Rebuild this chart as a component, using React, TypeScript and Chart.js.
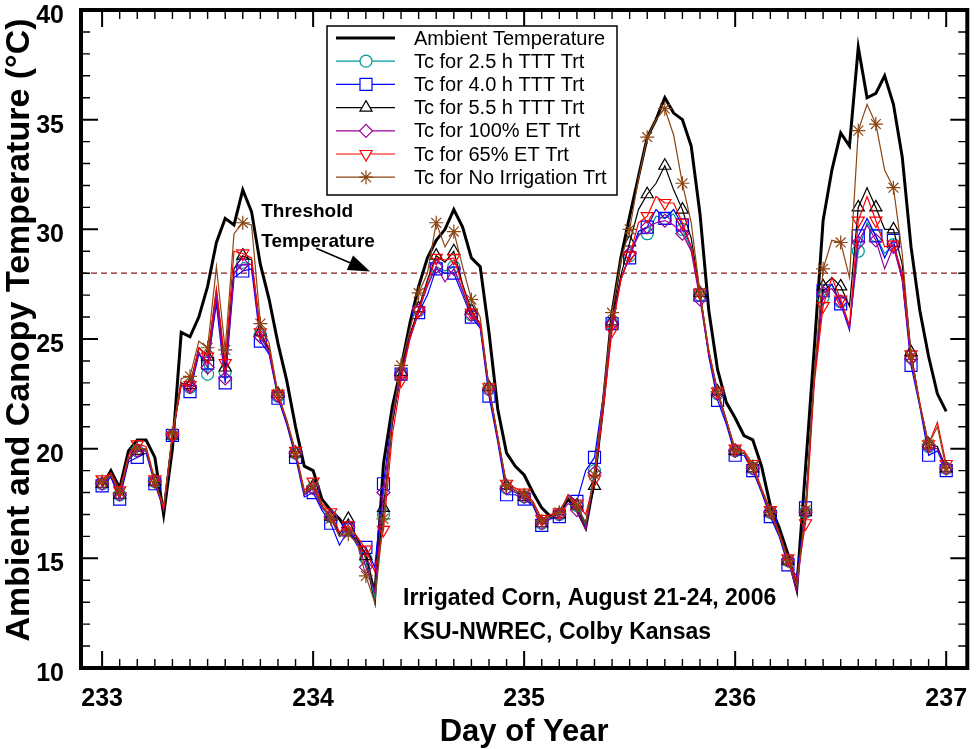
import React, { useEffect, useRef } from 'react';
import { Chart, registerables } from 'chart.js';
import { drawPoint } from 'chart.js/helpers';

Chart.register(...registerables);

const FONT = '"Liberation Sans", Arial, Helvetica, sans-serif';

// hourly readings from Day 233.0 to Day 237.0
const startDay = 233;
const xTicks = [233, 234, 235, 236, 237];
const yTicks = [10, 15, 20, 25, 30, 35, 40];
const thresholdTemp = 28;

const ambient = [
  18.3, 19.0, 18.2, 19.9, 20.4, 20.4, 19.6, 17.0, 20.0, 25.3, 25.1, 26.0, 27.4, 29.4, 30.5, 30.2, 31.8, 30.8, 28.4, 26.8, 24.8, 23.1, 21.0, 19.2,
  19.0, 17.7, 17.2, 16.8, 16.2, 15.8, 15.1, 13.2, 19.3, 21.9, 23.7, 25.7, 27.4, 28.7, 29.5, 30.0, 30.9, 30.1, 28.7, 28.3, 25.3, 21.8, 19.8, 19.2,
  18.8, 18.0, 17.3, 16.9, 17.1, 17.7, 17.2, 16.4, 18.6, 22.1, 26.2, 28.7, 30.6, 32.4, 34.2, 35.0, 36.0, 35.3, 35.0, 33.8, 30.7, 26.3, 23.6, 22.1,
  21.4, 20.6, 20.4, 19.2, 17.4, 16.4, 15.2, 13.6, 19.1, 24.6, 30.4, 32.7, 34.4, 33.8, 38.3, 36.0, 36.2, 37.0, 35.7, 33.3, 29.2, 26.3, 24.2, 22.5, 21.7,
];

const tc25h = [
  18.4, 18.8, 17.9, 19.5, 19.9, 19.9, 18.5, 17.3, 20.6, 23.0, 22.8, 24.4, 23.4, 27.0, 23.5, 28.0, 28.5, 28.4, 25.2, 24.4, 22.4, 21.2, 19.8, 17.9,
  18.2, 17.3, 16.9, 16.0, 16.4, 15.8, 15.0, 13.2, 17.0, 21.2, 23.4, 25.1, 26.3, 27.5, 28.3, 28.1, 28.3, 27.2, 26.1, 25.6, 22.7, 20.4, 18.2, 18.0,
  17.8, 17.5, 16.6, 16.9, 17.0, 17.8, 17.4, 16.5, 19.0, 22.2, 25.7, 27.7, 28.8, 29.8, 29.8, 30.6, 30.5, 30.7, 30.0, 29.1, 27.0, 24.3, 22.5, 21.2,
  19.9, 19.8, 19.1, 18.1, 17.1, 16.1, 14.9, 13.8, 17.1, 23.3, 26.9, 27.5, 26.7, 25.6, 29.0, 30.3, 29.7, 28.9, 29.3, 27.8, 24.2, 22.0, 20.1, 20.0, 19.1,
];

const tc40h = [
  18.3, 18.7, 17.7, 19.4, 19.6, 19.8, 18.4, 17.2, 20.6, 22.9, 22.6, 24.3, 23.9, 26.6, 23.0, 27.8, 28.1, 28.2, 24.9, 24.3, 22.3, 21.1, 19.6, 17.8,
  18.0, 17.2, 16.6, 15.6, 16.3, 15.6, 15.5, 14.6, 18.4, 21.5, 23.4, 25.0, 26.2, 27.0, 28.2, 28.0, 28.0, 27.0, 26.0, 25.5, 22.4, 20.3, 17.9, 17.9,
  17.7, 17.4, 16.5, 16.8, 16.9, 17.9, 17.6, 19.0, 19.6, 22.4, 25.7, 27.8, 28.7, 29.9, 30.1, 30.9, 30.5, 30.9, 30.2, 29.2, 27.0, 24.2, 22.2, 21.1,
  19.7, 19.7, 19.0, 18.0, 16.9, 16.0, 14.7, 14.2, 17.3, 23.2, 27.2, 27.5, 26.6, 25.4, 29.7, 30.5, 29.7, 28.7, 29.5, 27.7, 23.8, 21.9, 19.7, 19.9, 19.0,
];

const tc55h = [
  18.4, 18.8, 17.9, 19.5, 19.9, 20.0, 18.5, 17.3, 20.6, 23.0, 22.9, 24.6, 24.2, 27.2, 23.7, 28.2, 28.8, 28.6, 25.3, 24.5, 22.5, 21.2, 19.8, 18.0,
  18.3, 17.4, 16.9, 16.1, 16.8, 15.9, 15.1, 13.6, 17.3, 21.1, 23.5, 25.2, 26.4, 27.7, 28.8, 28.5, 29.0, 27.5, 26.3, 25.7, 22.8, 20.5, 18.3, 18.1,
  17.8, 17.5, 16.6, 16.9, 17.0, 17.7, 17.4, 16.6, 18.3, 22.1, 25.8, 27.9, 29.4, 30.9, 31.6, 32.1, 32.9, 31.8, 30.9, 29.6, 27.1, 24.4, 22.6, 21.3,
  19.9, 19.8, 19.1, 18.1, 17.1, 16.1, 14.9, 13.9, 17.1, 23.4, 27.4, 27.8, 27.4, 26.5, 31.0, 31.9, 31.0, 30.0, 30.0, 28.4, 24.4, 22.0, 20.2, 20.1, 19.1,
];

const tc100et = [
  18.4, 18.8, 17.9, 19.5, 19.9, 19.9, 18.5, 17.3, 20.6, 23.0, 22.8, 24.4, 23.7, 27.0, 23.2, 28.0, 28.4, 28.4, 25.1, 24.4, 22.4, 21.2, 19.8, 17.9,
  18.2, 17.3, 16.9, 16.0, 16.4, 15.8, 14.6, 13.5, 18.0, 21.3, 23.4, 25.1, 26.3, 27.4, 28.3, 27.6, 28.2, 27.2, 26.1, 25.6, 22.7, 20.4, 18.2, 18.0,
  17.8, 17.5, 16.6, 16.9, 17.0, 17.5, 17.2, 16.3, 18.9, 22.2, 25.7, 27.7, 28.9, 29.7, 30.1, 30.3, 30.4, 30.2, 29.8, 29.0, 26.8, 24.3, 22.5, 21.2,
  19.9, 19.8, 19.1, 18.1, 17.1, 16.1, 14.9, 13.5, 17.1, 23.3, 27.1, 27.3, 26.7, 25.5, 29.4, 30.2, 29.5, 28.2, 29.2, 27.7, 24.1, 22.0, 20.1, 20.0, 19.1,
];

const tc65et = [
  18.6, 18.9, 18.1, 19.7, 20.2, 20.1, 18.6, 17.2, 20.6, 22.9, 22.9, 24.6, 24.2, 27.3, 23.9, 29.0, 28.9, 28.7, 25.3, 24.6, 22.5, 21.3, 19.9, 18.1,
  18.5, 17.5, 17.1, 16.2, 16.5, 16.0, 15.4, 14.4, 16.3, 20.6, 23.1, 25.0, 26.3, 27.6, 28.7, 28.6, 28.7, 27.4, 26.2, 25.7, 22.8, 20.5, 18.4, 18.2,
  18.0, 17.6, 16.8, 17.0, 17.1, 17.9, 17.5, 17.0, 18.6, 21.8, 25.4, 27.7, 28.8, 30.3, 30.6, 31.5, 31.2, 31.2, 30.3, 29.2, 27.1, 24.4, 22.6, 21.3,
  20.0, 19.9, 19.3, 18.2, 17.2, 16.2, 15.0, 14.0, 16.6, 23.0, 26.5, 27.8, 26.8, 25.6, 30.4, 31.5, 30.4, 29.2, 29.3, 28.0, 24.3, 22.1, 20.2, 21.2, 19.3,
];

const tcNoIrr = [
  18.5, 18.8, 18.0, 19.6, 20.0, 20.0, 18.5, 17.4, 20.7, 23.2, 23.3, 24.9, 24.6, 28.3, 24.5, 29.8, 30.3, 30.2, 25.7, 24.8, 22.5, 21.3, 19.8, 18.0,
  18.3, 17.4, 16.8, 16.0, 16.1, 15.7, 14.2, 13.0, 16.8, 21.4, 23.8, 25.4, 27.1, 28.0, 30.3, 29.2, 29.9, 28.3, 26.8, 26.0, 22.8, 20.6, 18.3, 18.1,
  17.9, 17.5, 16.7, 16.9, 17.1, 17.8, 17.4, 16.6, 18.8, 22.4, 26.2, 28.6, 30.0, 32.3, 34.2, 35.0, 35.5, 34.3, 32.1, 30.3, 27.1, 24.5, 22.6, 21.3,
  19.9, 19.8, 19.2, 18.1, 17.1, 16.1, 14.9, 13.8, 17.2, 23.4, 28.2, 29.5, 29.4, 27.8, 34.5, 35.7, 34.8, 32.7, 31.9, 28.9, 24.2, 22.0, 20.2, 21.0, 19.1,
];

const toPoints = (vals: number[]) => vals.map((v, i) => ({ x: startDay + i / 24, y: v }));

interface SeriesDef {
  label: string;
  data: number[];
  color: string;
  style: string | false;
  radius: number;
  rotation: number;
  width: number;
}

const series: SeriesDef[] = [
  { label: 'Ambient Temperature', data: ambient, color: '#000000', style: false, radius: 0, rotation: 0, width: 3 },
  { label: 'Tc for 2.5 h TTT Trt', data: tc25h, color: '#009999', style: 'circle', radius: 6, rotation: 0, width: 1.2 },
  { label: 'Tc for 4.0 h TTT Trt', data: tc40h, color: '#0000FF', style: 'rect', radius: 8.5, rotation: 0, width: 1.2 },
  { label: 'Tc for 5.5 h TTT Trt', data: tc55h, color: '#000000', style: 'triangle', radius: 7, rotation: 0, width: 1.2 },
  { label: 'Tc for 100% ET Trt', data: tc100et, color: '#990099', style: 'rectRot', radius: 6.5, rotation: 0, width: 1.2 },
  { label: 'Tc for 65% ET Trt', data: tc65et, color: '#FF0000', style: 'triangle', radius: 7, rotation: 180, width: 1.2 },
  { label: 'Tc for No Irrigation Trt', data: tcNoIrr, color: '#8B4513', style: 'star', radius: 7, rotation: 0, width: 1.2 },
];

const decorPlugin = {
  id: 'decor',
  beforeDatasetsDraw(chart: any) {
    const { ctx, chartArea: a, scales } = chart;
    const ty = scales.y.getPixelForValue(thresholdTemp);
    ctx.save();
    ctx.strokeStyle = '#8B1A1A';
    ctx.lineWidth = 1.3;
    ctx.setLineDash([6, 4]);
    ctx.beginPath();
    ctx.moveTo(a.left, ty);
    ctx.lineTo(a.right, ty);
    ctx.stroke();
    ctx.restore();
  },
  afterDraw(chart: any) {
    const { ctx, chartArea: a, scales } = chart;
    const xs = scales.x;
    const ys = scales.y;
    ctx.save();
    ctx.strokeStyle = '#000';

    // inward ticks on all four sides
    for (let k = 0; k <= 48; k++) {
      const px = xs.getPixelForValue(startDay + k / 12);
      const major = k % 12 === 0;
      const len = major ? 17 : 9;
      ctx.lineWidth = major ? 2 : 1.4;
      ctx.beginPath();
      ctx.moveTo(px, a.bottom);
      ctx.lineTo(px, a.bottom - len);
      ctx.moveTo(px, a.top);
      ctx.lineTo(px, a.top + len);
      ctx.stroke();
    }
    for (let t = 10; t <= 40; t++) {
      const py = ys.getPixelForValue(t);
      const major = t % 5 === 0;
      const len = major ? 17 : 9;
      ctx.lineWidth = major ? 2 : 1.4;
      ctx.beginPath();
      ctx.moveTo(a.left, py);
      ctx.lineTo(a.left + len, py);
      ctx.moveTo(a.right, py);
      ctx.lineTo(a.right - len, py);
      ctx.stroke();
    }

    // frame
    ctx.lineWidth = 4;
    ctx.strokeRect(a.left, a.top, a.right - a.left, a.bottom - a.top);

    // axis titles
    ctx.fillStyle = '#000';
    ctx.font = `bold 31px ${FONT}`;
    ctx.textAlign = 'center';
    ctx.textBaseline = 'alphabetic';
    ctx.fillText('Day of Year', (a.left + a.right) / 2, 741);

    ctx.save();
    ctx.translate(29, 330);
    ctx.rotate(-Math.PI / 2);
    ctx.font = `bold 34px ${FONT}`;
    ctx.fillText('Ambient and Canopy Temperature (°C)', 0, 0);
    ctx.restore();

    // threshold annotation
    ctx.textAlign = 'left';
    ctx.font = `bold 19px ${FONT}`;
    ctx.fillText('Threshold', xs.getPixelForValue(233.754), ys.getPixelForValue(30.57));
    ctx.fillText('Temperature', xs.getPixelForValue(233.754), ys.getPixelForValue(29.2));
    const tx = xs.getPixelForValue(234.014);
    const tyy = ys.getPixelForValue(29.14);
    const hx = xs.getPixelForValue(234.27);
    const hy = ys.getPixelForValue(28.08);
    const ang = Math.atan2(hy - tyy, hx - tx);
    const headLen = 22;
    const headHalf = 8;
    const bx = hx - Math.cos(ang) * headLen;
    const by = hy - Math.sin(ang) * headLen;
    ctx.lineWidth = 1.5;
    ctx.beginPath();
    ctx.moveTo(tx, tyy);
    ctx.lineTo(bx, by);
    ctx.stroke();
    ctx.beginPath();
    ctx.moveTo(hx, hy);
    ctx.lineTo(bx - Math.sin(ang) * headHalf, by + Math.cos(ang) * headHalf);
    ctx.lineTo(bx + Math.sin(ang) * headHalf, by - Math.cos(ang) * headHalf);
    ctx.closePath();
    ctx.fill();

    // site note
    ctx.font = `bold 23px ${FONT}`;
    ctx.fillText('Irrigated Corn, August 21-24, 2006', xs.getPixelForValue(234.426), ys.getPixelForValue(12.89));
    ctx.fillText('KSU-NWREC, Colby Kansas', xs.getPixelForValue(234.426), ys.getPixelForValue(11.3));

    // legend box
    const lx = a.left + 246;
    const ly = a.top + 16;
    const lw = 290;
    const lh = 169;
    ctx.fillStyle = '#fff';
    ctx.fillRect(lx, ly, lw, lh);
    ctx.lineWidth = 1.5;
    ctx.strokeStyle = '#000';
    ctx.strokeRect(lx, ly, lw, lh);
    ctx.font = `20px ${FONT}`;
    ctx.textBaseline = 'middle';
    series.forEach((s, i) => {
      const ry = ly + 12 + i * 23.2;
      ctx.strokeStyle = s.color;
      ctx.lineWidth = s.width;
      ctx.beginPath();
      ctx.moveTo(lx + 9, ry);
      ctx.lineTo(lx + 68, ry);
      ctx.stroke();
      if (s.style) {
        ctx.fillStyle = '#fff';
        ctx.lineWidth = 1.2;
        drawPoint(ctx, { pointStyle: s.style as any, rotation: s.rotation, radius: s.radius, borderWidth: 1.2 }, lx + 39, ry);
      }
      ctx.fillStyle = '#000';
      ctx.fillText(s.label, lx + 87, ry + 1);
    });
    ctx.restore();
  },
};

export default function App() {
  const canvasRef = useRef<HTMLCanvasElement>(null);
  const chartRef = useRef<Chart | null>(null);

  useEffect(() => {
    document.body.style.margin = '0';
    if (!canvasRef.current) return;
    if (chartRef.current) chartRef.current.destroy();

    const datasets = series.map((s, i) => ({
      label: s.label,
      data: toPoints(s.data),
      borderColor: s.color,
      borderWidth: s.width,
      backgroundColor: 'transparent',
      pointStyle: s.style || 'circle',
      pointRotation: s.rotation,
      pointBorderColor: s.color,
      pointBackgroundColor: 'transparent',
      pointBorderWidth: 1.2,
      pointRadius: (c: any) => (s.style && c.dataIndex % 2 === 0 ? s.radius : 0),
      pointHoverRadius: 0,
      tension: 0,
      fill: false,
      order: series.length - i,
    }));

    chartRef.current = new Chart(canvasRef.current, {
      type: 'line',
      data: { datasets },
      options: {
        animation: false,
        responsive: false,
        layout: { padding: { top: 10, right: 3, left: 0, bottom: 0 } },
        plugins: { legend: { display: false }, tooltip: { enabled: false } },
        scales: {
          x: {
            type: 'linear',
            min: 232.9,
            max: 237.1,
            grid: { display: false },
            border: { display: false },
            afterBuildTicks: (s: any) => {
              s.ticks = xTicks.map((v) => ({ value: v }));
            },
            afterFit: (s: any) => {
              s.height = 81;
              s.paddingLeft = 0;
              s.paddingRight = 0;
            },
            ticks: {
              autoSkip: false,
              maxRotation: 0,
              padding: 8,
              color: '#000',
              font: { family: FONT, size: 25, weight: 'bold' },
              callback: (v: any) => String(v),
            },
          },
          y: {
            min: 10,
            max: 40,
            grid: { display: false },
            border: { display: false },
            afterBuildTicks: (s: any) => {
              s.ticks = yTicks.map((v) => ({ value: v }));
            },
            afterFit: (s: any) => {
              s.width = 81;
              s.paddingTop = 0;
              s.paddingBottom = 0;
            },
            ticks: {
              padding: 9,
              labelOffset: 6,
              color: '#000',
              font: { family: FONT, size: 25, weight: 'bold' },
              callback: (v: any) => String(v),
            },
          },
        },
      },
      plugins: [decorPlugin],
    } as any);

    return () => {
      if (chartRef.current) {
        chartRef.current.destroy();
        chartRef.current = null;
      }
    };
  }, []);

  return (
    <div style={{ position: 'absolute', left: 0, top: 0, width: 977, height: 749 }}>
      <canvas ref={canvasRef} width={977} height={749} />
    </div>
  );
}
